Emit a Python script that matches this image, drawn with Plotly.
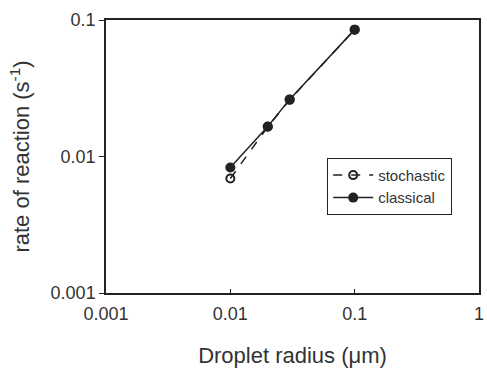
import plotly.graph_objects as go

radius = [0.01, 0.02, 0.03, 0.1]
stochastic = [0.0069, 0.0165, 0.026, 0.085]
classical = [0.0083, 0.0166, 0.0262, 0.085]
x_ticks = [0.001, 0.01, 0.1, 1]
x_ticktext = ["0.001", "0.01", "0.1", "1"]
y_ticks = [0.001, 0.01, 0.1]
y_ticktext = ["0.001", "0.01", "0.1"]

fc = "#222"
fig = go.Figure()
fig.add_trace(go.Scatter(x=radius, y=stochastic, name="stochastic", mode="lines+markers",
                         line=dict(color=fc, width=1.5, dash="dash"),
                         marker=dict(symbol="circle-open", size=8, color=fc, line=dict(width=2))))
fig.add_trace(go.Scatter(x=radius, y=classical, name="classical", mode="lines+markers",
                         line=dict(color=fc, width=1.5),
                         marker=dict(symbol="circle", size=10, color=fc)))
fig.update_layout(
    width=487, height=368, margin=dict(l=106, r=8, t=20, b=75),
    paper_bgcolor="white", plot_bgcolor="white",
    font=dict(family="Liberation Sans, Arial, sans-serif", size=18, color="#333"),
    showlegend=True,
    legend=dict(x=0.593, y=0.495, xanchor="left", yanchor="top", bordercolor="#222", borderwidth=1,
                bgcolor="white", font=dict(size=15, color="#333"), tracegroupgap=0,
                itemwidth=40),
    xaxis=dict(type="log", range=[-3, 0], tickvals=x_ticks, ticktext=x_ticktext,
               showline=True, linecolor="#222", linewidth=1.5, mirror=True, showgrid=False,
               ticks="inside", ticklen=4, tickcolor="#222", zeroline=False,
               ticklabeloverflow="allow", automargin=False, ticklabelstandoff=4,
               title=dict(text="Droplet radius (\u03bcm)", standoff=29)),
    yaxis=dict(type="log", range=[-3, -1], tickvals=y_ticks, ticktext=y_ticktext,
               showline=True, linecolor="#222", linewidth=1.5, mirror=True, showgrid=False,
               ticks="outside", ticklen=5, tickcolor="#222", zeroline=False,
               automargin=False,
               title=dict(text="rate of reaction (s<sup>-1</sup>)", standoff=15)),
)
fig.write_html("out.html", config={"displayModeBar": False},
               post_script="document.body.style.margin='0';document.body.style.padding='0';")
